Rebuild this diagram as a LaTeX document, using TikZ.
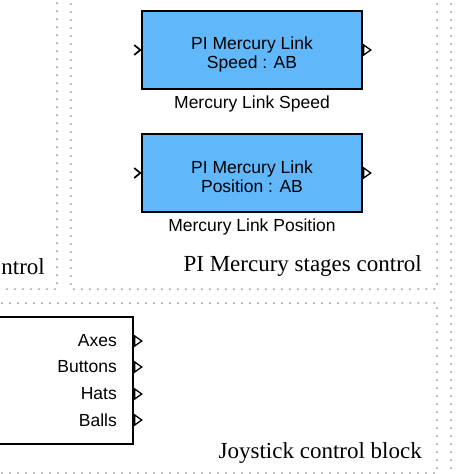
\documentclass[tikz,border=0pt]{standalone}
\usepackage{fontspec}
\setmainfont{Liberation Serif}
\setsansfont{Liberation Sans}
\usetikzlibrary{positioning}
\definecolor{blockblue}{RGB}{96,183,250}
\tikzset {
  % dotted frame round a subsystem area
  area/.style = {
    draw = gray!80,
    line width = 2pt,
    dash pattern = on 0pt off 8pt,
    line cap = round
  },
  area label/.style = {
    font = \fontsize{23}{26}\selectfont,
    inner sep = 0,
    anchor = east
  },
  % simulink block
  block/.style = {
    draw = black,
    line width = 1.5pt,
    fill = blockblue,
    minimum width = 220pt,
    minimum height = 78pt
  },
  block text/.style = {
    align = center,
    inner sep = 0,
    font = \sffamily\fontsize{17.5}{19}\selectfont
  },
  block label/.style = {
    font = \sffamily\fontsize{17.5}{19}\selectfont,
    inner sep = 0
  },
  port label/.style = {
    font = \sffamily\fontsize{17.5}{19}\selectfont,
    inner sep = 0,
    anchor = east
  },
  % input port chevron
  inport/.style = {
    draw = black,
    line width = 1.7pt
  },
  % output port open triangle
  outport/.style = {
    draw = black,
    line width = 1.3pt,
    fill = white,
    line join = miter
  },
  node distance = 6pt
}

\begin{document}
\begin{tikzpicture}[x=1pt, y=-1pt]
  \useasboundingbox (0,0) rectangle (474,474);
  \clip (0,0) rectangle (474,474);

  % subsystem areas
  \draw[area] (-20,-20) rectangle (57,289);
  \draw[area] (71,-20) rectangle (437,289);
  \draw[area] (451,-20) rectangle (500,500);
  \draw[area] (-20,303) rectangle (437,473);

  \node[area label] (leftlabel) at (45,267) {ntrol};
  \node[area label] (pilabel) at (422,266) {PI Mercury stages control};
  \node[area label] (joylabel) at (422,453) {Joystick control block};

  % PI Mercury blocks
  \node[block] (speed) at (252,50) {};
  \node[block text] (speedtext) at ([yshift=-4pt]speed.center) {PI Mercury Link\\Speed : AB};
  \node[block label] (speedname) [below=of speed] {Mercury Link Speed};
  \node[block] (position) at (252,173) {};
  \node[block text] (positiontext) at ([yshift=-4pt]position.center) {PI Mercury Link\\Position : AB};
  \node[block label] (positionname) [below=of position] {Mercury Link Position};

  \foreach \b in {speed, position} {
    \draw[inport] ([xshift=-7pt]\b.west) ++(0,-5) -- ++(6,5) -- ++(-6,5);
    \draw[outport] ([xshift=1pt]\b.east) ++(0,-5) -- ++(7,5) -- ++(-7,5) -- cycle;
  }

  % joystick block
  \node[draw = black, line width = 1.5pt, minimum width = 153pt,
    minimum height = 127pt] (joystick) at (56.5,380.5) {};
  \node[port label] (axes) at (117,341) {Axes};
  \node[port label] (buttons) at (117,367) {Buttons};
  \node[port label] (hats) at (117,394) {Hats};
  \node[port label] (balls) at (117,420) {Balls};

  \foreach \p in {axes, buttons, hats, balls} {
    \draw[outport] ([xshift=1pt]joystick.east |- \p.east) ++(0,-5) -- ++(7,5) -- ++(-7,5) -- cycle;
  }
\end{tikzpicture}
\end{document}
